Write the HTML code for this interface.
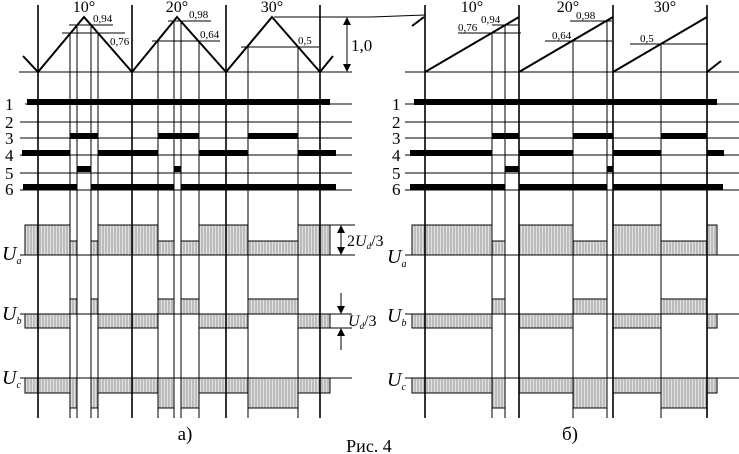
<!DOCTYPE html>
<html><head><meta charset="utf-8"><style>
html,body{margin:0;padding:0;background:#fff;}
svg{display:block;}
text{font-family:"Liberation Serif",serif;fill:#000;}
</style></head><body>
<svg width="739" height="454" viewBox="0 0 739 454" xmlns="http://www.w3.org/2000/svg">
<defs>
<pattern id="h" width="3" height="10" patternUnits="userSpaceOnUse">
<rect width="3" height="10" fill="#e0e0e0"/><line x1="1" y1="0" x2="1" y2="10" stroke="#999" stroke-width="1"/>
</pattern>
</defs>
<g fill="url(#h)" stroke="#000" stroke-width="1">
<rect x="25" y="225" width="45" height="30"/><rect x="70" y="241" width="7" height="14"/><rect x="91" y="241" width="7" height="14"/>
<rect x="98" y="225" width="60" height="30"/><rect x="158" y="241" width="16" height="14"/><rect x="181" y="241" width="18" height="14"/>
<rect x="199" y="225" width="49" height="30"/><rect x="248" y="241" width="50" height="14"/><rect x="298" y="225" width="32" height="30"/>
<rect x="25" y="314" width="45" height="14"/><rect x="70" y="299" width="7" height="15"/><rect x="91" y="299" width="7" height="15"/>
<rect x="98" y="314" width="60" height="14"/><rect x="158" y="299" width="16" height="15"/><rect x="181" y="299" width="18" height="15"/>
<rect x="199" y="314" width="49" height="14"/><rect x="248" y="299" width="50" height="15"/><rect x="298" y="314" width="32" height="14"/>
<rect x="25" y="378" width="45" height="15"/><rect x="70" y="378" width="7" height="30"/><rect x="91" y="378" width="7" height="30"/>
<rect x="98" y="378" width="60" height="15"/><rect x="158" y="378" width="16" height="30"/><rect x="181" y="378" width="18" height="30"/>
<rect x="199" y="378" width="49" height="15"/><rect x="248" y="378" width="50" height="30"/><rect x="298" y="378" width="32" height="15"/>
<rect x="412" y="225" width="80" height="30"/><rect x="492" y="241" width="13" height="14"/>
<rect x="519" y="225" width="54" height="30"/><rect x="573" y="241" width="34" height="14"/>
<rect x="613" y="225" width="48" height="30"/><rect x="661" y="241" width="46" height="14"/><rect x="707" y="225" width="10" height="30"/>
<rect x="412" y="314" width="80" height="14"/><rect x="492" y="299" width="13" height="15"/>
<rect x="519" y="314" width="54" height="14"/><rect x="573" y="299" width="34" height="15"/>
<rect x="613" y="314" width="48" height="14"/><rect x="661" y="299" width="46" height="15"/><rect x="707" y="314" width="10" height="14"/>
<rect x="412" y="378" width="80" height="15"/><rect x="492" y="378" width="13" height="30"/>
<rect x="519" y="378" width="54" height="15"/><rect x="573" y="378" width="34" height="30"/>
<rect x="613" y="378" width="48" height="15"/><rect x="661" y="378" width="46" height="30"/><rect x="707" y="378" width="10" height="15"/>
</g>
<g stroke="#000" stroke-width="1" fill="none">
<line x1="19" y1="72" x2="352" y2="72"/><line x1="405" y1="72" x2="739" y2="72"/>
<line x1="20" y1="255" x2="355" y2="255"/><line x1="330" y1="225" x2="355" y2="225"/>
<line x1="20" y1="314" x2="352" y2="314"/><line x1="330" y1="328" x2="352" y2="328"/>
<line x1="20" y1="378" x2="352" y2="378"/>
<line x1="405" y1="255" x2="739" y2="255"/><line x1="405" y1="314" x2="739" y2="314"/><line x1="405" y1="378" x2="739" y2="378"/>
<line x1="25" y1="104" x2="352" y2="104"/><line x1="20" y1="122" x2="352" y2="122"/><line x1="20" y1="138" x2="352" y2="138"/>
<line x1="20" y1="155" x2="352" y2="155"/><line x1="20" y1="173" x2="352" y2="173"/><line x1="20" y1="190" x2="352" y2="190"/>
<line x1="405" y1="104" x2="739" y2="104"/><line x1="405" y1="122" x2="739" y2="122"/><line x1="405" y1="138" x2="739" y2="138"/>
<line x1="405" y1="155" x2="739" y2="155"/><line x1="405" y1="173" x2="739" y2="173"/><line x1="405" y1="190" x2="739" y2="190"/>
<g stroke-width="1.6">
<line x1="38" y1="5" x2="38" y2="418"/><line x1="132" y1="5" x2="132" y2="418"/><line x1="226" y1="5" x2="226" y2="418"/><line x1="320" y1="5" x2="320" y2="418"/>
<line x1="425" y1="5" x2="425" y2="418"/><line x1="519" y1="5" x2="519" y2="418"/><line x1="613" y1="5" x2="613" y2="418"/><line x1="707" y1="5" x2="707" y2="418"/>
</g>
<line x1="70" y1="33" x2="70" y2="418"/><line x1="77" y1="25" x2="77" y2="418"/><line x1="91" y1="25" x2="91" y2="418"/><line x1="98" y1="33" x2="98" y2="418"/>
<line x1="158" y1="41" x2="158" y2="418"/><line x1="174" y1="21" x2="174" y2="418"/><line x1="181" y1="21" x2="181" y2="418"/><line x1="199" y1="41" x2="199" y2="418"/>
<line x1="248" y1="47" x2="248" y2="418"/><line x1="298" y1="47" x2="298" y2="418"/>
<line x1="492" y1="33" x2="492" y2="418"/><line x1="505" y1="25" x2="505" y2="418"/>
<line x1="573" y1="41" x2="573" y2="418"/><line x1="607" y1="21" x2="607" y2="418"/>
<line x1="661" y1="44" x2="661" y2="418"/>
<line x1="69" y1="25" x2="113" y2="25"/><line x1="62" y1="33" x2="125" y2="33"/>
<line x1="168" y1="21" x2="211" y2="21"/><line x1="152" y1="41" x2="220" y2="41"/>
<line x1="241" y1="47" x2="319" y2="47"/>
<line x1="458" y1="33" x2="521" y2="33"/><line x1="492" y1="25" x2="518" y2="25"/>
<line x1="570" y1="21" x2="612" y2="21"/><line x1="545" y1="41" x2="612" y2="41"/>
<line x1="630" y1="44" x2="708" y2="44"/>
<line x1="274" y1="17" x2="370" y2="17"/><line x1="370" y1="17" x2="425" y2="15"/>
<line x1="347" y1="22" x2="347" y2="67"/>
<line x1="341" y1="233" x2="341" y2="247"/>
<line x1="341" y1="293" x2="341" y2="308"/><line x1="341" y1="334" x2="341" y2="350"/>
</g>
<polyline points="23,56 38,72 84,17 132,72 177,17 226,72 272,17 320,72 333,56" fill="none" stroke="#000" stroke-width="2"/>
<g stroke="#000" stroke-width="2" fill="none">
<line x1="412" y1="26" x2="424" y2="17"/>
<line x1="425" y1="72" x2="519" y2="17"/><line x1="519" y1="72" x2="613" y2="17"/><line x1="613" y1="72" x2="707" y2="17"/>
<line x1="707" y1="72" x2="721" y2="61"/>
</g>
<g fill="#000">
<polygon points="347,17 343,25 351,25"/><polygon points="347,72 343,64 351,64"/>
<polygon points="341,225 337,233 345,233"/><polygon points="341,255 337,247 345,247"/>
<polygon points="341,314 337,306 345,306"/><polygon points="341,328 337,336 345,336"/>
</g>
<g fill="#000">
<rect x="27" y="99" width="303" height="6"/>
<rect x="70" y="133" width="28" height="6"/><rect x="158" y="133" width="41" height="6"/><rect x="248" y="133" width="50" height="6"/>
<rect x="22" y="150" width="48" height="6"/><rect x="98" y="150" width="60" height="6"/><rect x="199" y="150" width="49" height="6"/><rect x="298" y="150" width="38" height="6"/>
<rect x="77" y="166" width="14" height="6"/><rect x="174" y="166" width="7" height="6"/>
<rect x="23" y="184" width="54" height="6"/><rect x="91" y="184" width="83" height="6"/><rect x="181" y="184" width="155" height="6"/>
<rect x="414" y="99" width="303" height="6"/>
<rect x="492" y="133" width="27" height="6"/><rect x="573" y="133" width="40" height="6"/><rect x="661" y="133" width="46" height="6"/>
<rect x="410" y="150" width="82" height="6"/><rect x="519" y="150" width="54" height="6"/><rect x="613" y="150" width="48" height="6"/><rect x="707" y="150" width="17" height="6"/>
<rect x="505" y="166" width="14" height="6"/><rect x="607" y="166" width="6" height="6"/>
<rect x="410" y="184" width="95" height="6"/><rect x="519" y="184" width="88" height="6"/><rect x="613" y="184" width="110" height="6"/>
</g>
<g font-size="16">
<text x="84" y="12" text-anchor="middle">10°</text><text x="177" y="12" text-anchor="middle">20°</text><text x="272" y="12" text-anchor="middle">30°</text>
<text x="472" y="12" text-anchor="middle">10°</text><text x="568" y="12" text-anchor="middle">20°</text><text x="665" y="12" text-anchor="middle">30°</text>
<text x="351" y="51" font-size="17">1,0</text>
</g>
<g font-size="11">
<text x="93" y="22">0,94</text><text x="110" y="45">0,76</text>
<text x="189" y="18">0,98</text><text x="200" y="38">0,64</text>
<text x="298" y="44">0,5</text>
<text x="458" y="31">0,76</text><text x="481" y="23">0,94</text>
<text x="576" y="19">0,98</text><text x="552" y="39">0,64</text>
<text x="640" y="42">0,5</text>
</g>
<g font-size="17">
<text x="5" y="110">1</text><text x="5" y="128">2</text><text x="5" y="144">3</text><text x="5" y="161">4</text><text x="5" y="179">5</text><text x="5" y="195">6</text>
<text x="392" y="110">1</text><text x="392" y="128">2</text><text x="392" y="144">3</text><text x="392" y="161">4</text><text x="392" y="179">5</text><text x="392" y="195">6</text>
</g>
<g font-size="20" font-style="italic">
<text x="2" y="260">U<tspan font-size="10" dy="4">a</tspan></text>
<text x="2" y="320">U<tspan font-size="10" dy="4">b</tspan></text>
<text x="2" y="384">U<tspan font-size="10" dy="4">c</tspan></text>
<text x="387" y="263">U<tspan font-size="10" dy="4">a</tspan></text>
<text x="387" y="322">U<tspan font-size="10" dy="4">b</tspan></text>
<text x="387" y="386">U<tspan font-size="10" dy="4">c</tspan></text>
</g>
<g font-size="16">
<text x="347" y="246">2<tspan font-style="italic">U</tspan><tspan font-size="9" dy="3" font-style="italic">d</tspan><tspan dy="-3">/3</tspan></text>
<text x="348" y="326"><tspan font-style="italic">U</tspan><tspan font-size="9" dy="3" font-style="italic">d</tspan><tspan dy="-3">/3</tspan></text>
<text x="185" y="440" text-anchor="middle" font-size="19">а)</text>
<text x="570" y="440" text-anchor="middle" font-size="19">б)</text>
<text x="369" y="452" text-anchor="middle" font-size="18">Рис. 4</text>
</g>
</svg>
</body></html>
